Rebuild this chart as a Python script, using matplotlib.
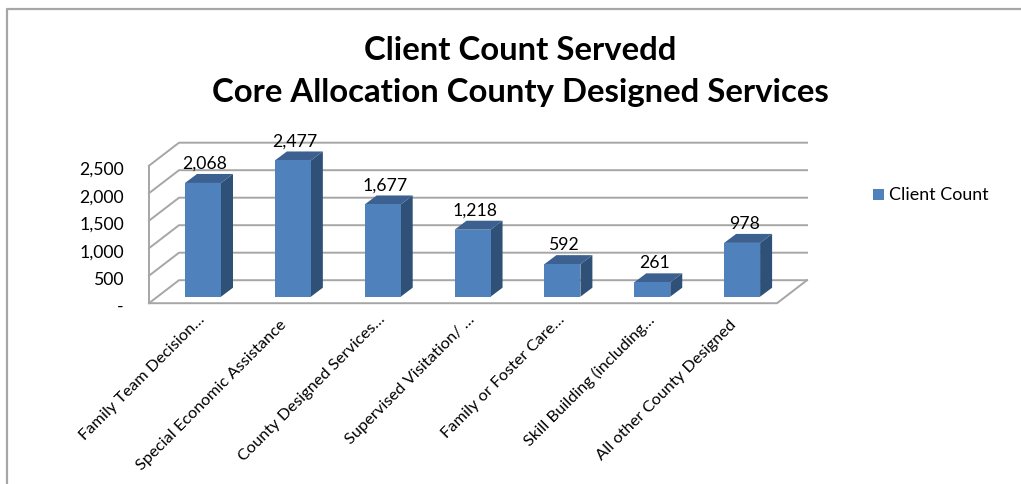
import numpy as np
import matplotlib
matplotlib.use('Agg')
import matplotlib.pyplot as plt
from matplotlib.patches import Polygon

plt.rcParams['font.family'] = ['Lato', 'DejaVu Sans']

categories = ['Family Team Decision…', 'Special Economic Assistance',
              'County Designed Services…', 'Supervised Visitation/ …',
              'Family or Foster Care…', 'Skill Building (including…',
              'All other County Designed']
client_count = [2068, 2477, 1677, 1218, 592, 261, 978]
y_ticks = [0, 500, 1000, 1500, 2000, 2500]
y_labels = ['-', '500', '1,000', '1,500', '2,000', '2,500']
series_name = 'Client Count'
title = 'Client Count Servedd\nCore Allocation County Designed Services'

W, H = 1021, 485
PX_X = 89.85     # pixels per category
PX_Y = 0.055     # pixels per client
X0, Y0 = 203.0, 297.7   # pixel of first bar centre / bar base

FRONT = '#4f81bd'
SIDE = '#2f5077'
TOP = '#3c6190'
GRID = '#a6a6a6'

fig = plt.figure(figsize=(W / 100, H / 100), dpi=100)
ax = fig.add_axes([0, 0, 1, 1])
# whole figure axes: x = category index, y = client count
ax.set_xlim(-X0 / PX_X, (W - X0) / PX_X)
ax.set_ylim((Y0 - H) / PX_Y, Y0 / PX_Y)
ax.axis('off')


def dx(p):
    return p / PX_X


def dy(p):
    return p / PX_Y


# outer frame
trans = ax.transAxes
ax.plot([6.5 / W, 6.5 / W, 1], [0, 1 - 9.5 / H, 1 - 9.5 / H], color=GRID, lw=1.6, transform=trans, clip_on=False)

# floor and walls of the 3d box
front_left = dx(149 - X0)
front_right = front_left + dx(628)
floor_y = dy(-6.5)
depth_x, depth_y = dx(30), dy(23)
for v in y_ticks:
    ax.plot([front_left, front_left + depth_x, front_right + depth_x],
            [floor_y + v, floor_y + v + depth_y, floor_y + v + depth_y],
            color=GRID, lw=1.4, zorder=1)
ax.plot([front_left, front_left], [floor_y, floor_y + y_ticks[-1]], color=GRID, lw=1.4, zorder=1)
ax.plot([front_left, front_right, front_right + depth_x],
        [floor_y, floor_y, floor_y + depth_y], color=GRID, lw=1.4, zorder=1)

# bars
half = dx(18)
bar_dx, bar_dy = dx(12), dy(9)
for i, v in enumerate(client_count):
    l, r = i - half, i + half
    ax.add_patch(Polygon([(r, 0), (r + bar_dx, bar_dy), (r + bar_dx, v + bar_dy), (r, v)], fc=SIDE, ec='none', zorder=3))
    ax.add_patch(Polygon([(l, v), (r, v), (r + bar_dx, v + bar_dy), (l + bar_dx, v + bar_dy)], fc=TOP, ec='none', zorder=3))
    ax.bar(i, v, width=2 * half, color=FRONT, zorder=4)
    ax.text(i + dx(2), v + dy(20), f'{v:,}', ha='center', va='center', fontsize=12.7, color='black', zorder=5)

# axis labels
for v, lab in zip(y_ticks, y_labels):
    ax.text(dx(-79), floor_y + v - dy(3), lab, ha='right', va='center', fontsize=12.7, color='black')
for i, lab in enumerate(categories):
    # labels without an ellipsis end a bit further left and lower
    off_x, off_y = (0, 0) if lab.endswith('…') else (-8, -5)
    ax.text(i + dx(-5 + off_x), dy(-15 + off_y), lab, rotation=45, rotation_mode='anchor', ha='right', va='top', fontsize=11.8, color='black')

# title
ax.text(dx(520 - X0), dy(Y0 - 71.5), title, ha='center', va='center', fontsize=23.7, fontweight='bold', linespacing=1.53, color='black')

# legend
ax.bar(dx(878.5 - X0), dy(11), width=dx(11), bottom=dy(Y0 - 201), color=FRONT)
ax.text(dx(889 - X0), dy(Y0 - 195), series_name, ha='left', va='center', fontsize=12.9, color='black')

fig.savefig('out.png', dpi=100)
